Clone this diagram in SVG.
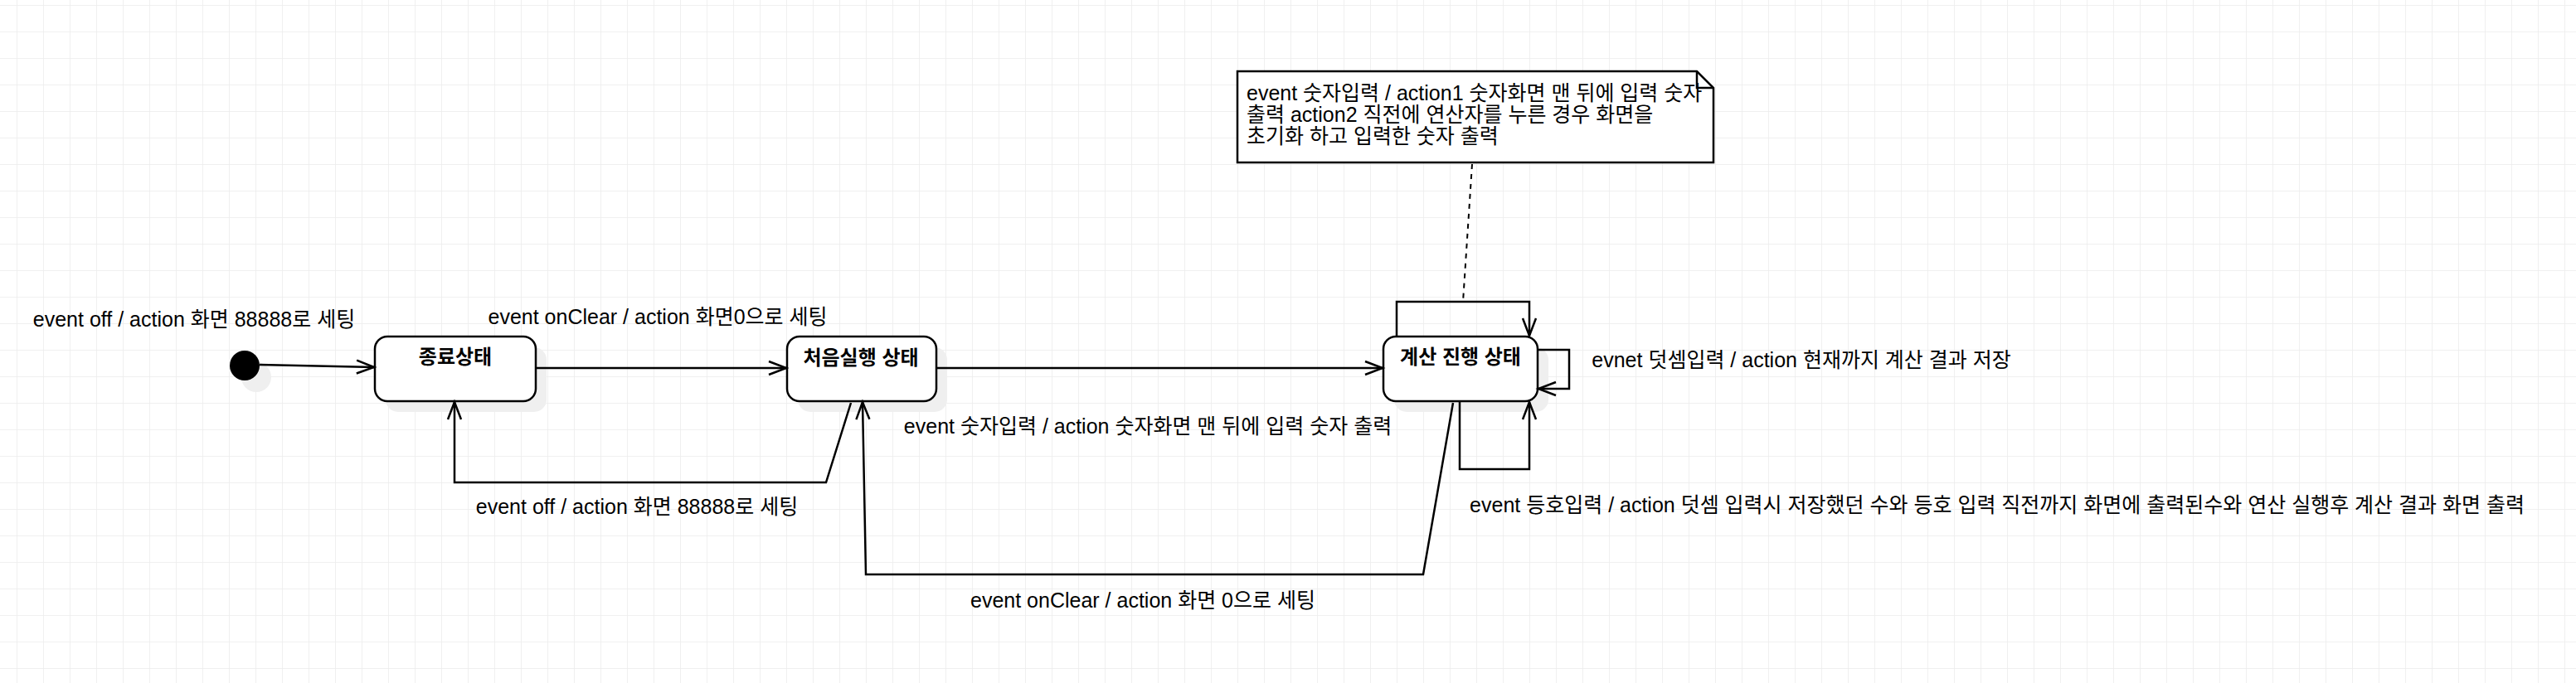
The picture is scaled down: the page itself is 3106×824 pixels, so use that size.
<svg xmlns="http://www.w3.org/2000/svg" width="3106" height="824" viewBox="0 0 3106 824">
<style>
  .t { font-family: "Liberation Sans", "Noto Sans CJK KR", sans-serif; font-size: 25px; fill: #000; }
  .c { text-anchor: middle; }
  .b { font-weight: bold; font-size: 24px; }
  .box { fill: #fff; stroke: #000; stroke-width: 2.5; }
  .sh { fill: #efefef; }
  .e { fill: none; stroke: #000; stroke-width: 2.5; }
</style>
<defs>
  <pattern id="grid" patternUnits="userSpaceOnUse" x="20" y="6" width="32" height="32">
    <path d="M32 0 L0 0 L0 32" fill="none" stroke="#ececec" stroke-width="1.5"/>
  </pattern>
  <marker id="arr" markerUnits="userSpaceOnUse" markerWidth="26" markerHeight="22" refX="22" refY="10" orient="auto">
    <path d="M1,2 L22,10 L1,18" fill="none" stroke="#000" stroke-width="2.5"/>
  </marker>
</defs>
<rect width="3106" height="824" fill="#fff"/>
<rect width="3106" height="824" fill="url(#grid)"/>

<g id="initial">
  <circle cx="309" cy="455" r="18" class="sh"/>
  <circle cx="295" cy="441" r="18" fill="#000"/>
</g>

<g id="state-end">
  <rect x="465" y="419" width="194" height="78" rx="15" class="sh"/>
  <rect x="452" y="406" width="194" height="78" rx="15" class="box"/>
  <text x="549" y="439" class="t c b">종료상태</text>
</g>

<g id="state-start">
  <rect x="962" y="419" width="180" height="78" rx="15" class="sh"/>
  <rect x="949" y="406" width="180" height="78" rx="15" class="box"/>
  <text x="1038" y="440" class="t c b">처음실행 상태</text>
</g>

<g id="state-calc">
  <rect x="1681" y="419" width="186" height="78" rx="15" class="sh"/>
  <rect x="1668" y="406" width="186" height="78" rx="15" class="box"/>
  <text x="1761" y="439" class="t c b">계산 진행 상태</text>
</g>

<g id="note">
  <path d="M1492,86 L2046,86 L2066,106 L2066,196 L1492,196 Z" class="box"/>
  <path d="M2046,86 L2046,106 L2066,106" class="e"/>
  <text x="1503" y="121" class="t">event 숫자입력 / action1 숫자화면 맨 뒤에 입력 숫자</text>
  <text x="1503" y="147" class="t">출력 action2 직전에 연산자를 누른 경우 화면을</text>
  <text x="1503" y="173" class="t">초기화 하고 입력한 숫자 출력</text>
</g>

<g id="connectors">
  <path d="M313,440 L451,443" class="e" marker-end="url(#arr)"/>
  <path d="M646,444 L948,444" class="e" marker-end="url(#arr)"/>
  <path d="M1129,444 L1667,444" class="e" marker-end="url(#arr)"/>
  <path d="M1752,486 L1716,693 L1044,693 L1040,485" class="e" marker-end="url(#arr)"/>
  <path d="M1026,486 L996,582 L548,582 L548,485" class="e" marker-end="url(#arr)"/>
  <path d="M1684,406 L1684,364 L1844,364 L1844,405" class="e" marker-end="url(#arr)"/>
  <path d="M1854,422 L1892,422 L1892,469 L1855,469" class="e" marker-end="url(#arr)"/>
  <path d="M1760,484 L1760,566 L1844,566 L1844,485" class="e" marker-end="url(#arr)"/>
  <path d="M1775,198 L1764,364" fill="none" stroke="#000" stroke-width="2" stroke-dasharray="6 6"/>
</g>

<g id="labels">
  <text x="234" y="394" class="t c">event off / action 화면 88888로 세팅</text>
  <text x="793" y="391" class="t c">event onClear / action 화면0으로 세팅</text>
  <text x="1384" y="523" class="t c">event 숫자입력 / action 숫자화면 맨 뒤에 입력 숫자 출력</text>
  <text x="2172" y="443" class="t c">evnet 덧셈입력 / action 현재까지 계산 결과 저장</text>
  <text x="2408" y="618" class="t c">event 등호입력 / action 덧셈 입력시 저장했던 수와 등호 입력 직전까지 화면에 출력된수와 연산 실행후 계산 결과 화면 출력</text>
  <text x="768" y="620" class="t c">event off / action 화면 88888로 세팅</text>
  <text x="1378" y="733" class="t c">event onClear / action 화면 0으로 세팅</text>
</g>
</svg>
